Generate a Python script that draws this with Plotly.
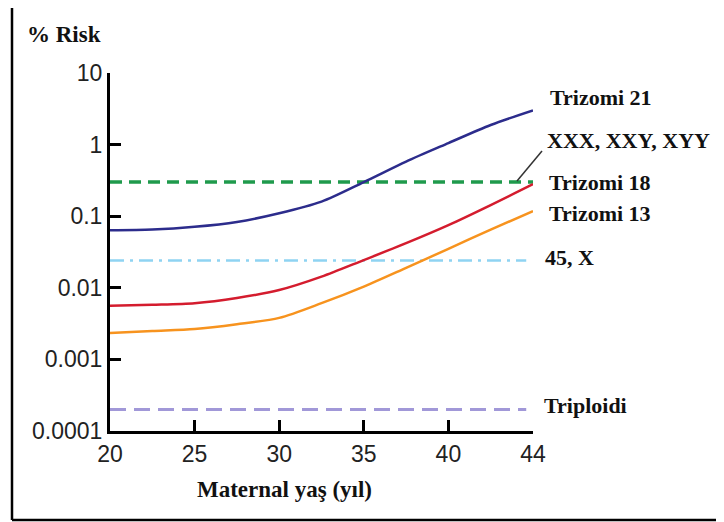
import plotly.graph_objects as go

# ---- data ----
# x positions along the age axis; the final axis position is labelled "44" in the original
x_pos = [20, 22.5, 25, 27.5, 30, 32.5, 35, 37.5, 40, 42.5, 45]
trizomi21 = [0.0635, 0.065, 0.071, 0.083, 0.11, 0.16, 0.30, 0.58, 1.05, 1.88, 3.0]
trizomi18 = [0.0056, 0.0058, 0.0061, 0.0072, 0.0093, 0.0143, 0.0244, 0.042, 0.075, 0.143, 0.28]
trizomi13 = [0.00234, 0.0025, 0.00266, 0.0031, 0.0038, 0.0061, 0.0104, 0.019, 0.035, 0.065, 0.118]
xxx_xxy_xyy = 0.30
x45 = 0.024
triploidi = 0.0002

x_tickvals = [20, 25, 30, 35, 40, 45]
x_ticktext = ["20", "25", "30", "35", "40", "44"]
y_tickvals = [0.0001, 0.001, 0.01, 0.1, 1, 10]
y_ticktext = ["0.0001", "0.001", "0.01", "0.1", "1", "10"]

labels = ["Trizomi 21", "XXX, XXY, XYY", "Trizomi 18", "Trizomi 13", "45, X", "Triploidi"]

# ---- layout geometry (screen pixels; page body adds an 8px offset) ----
OFF = 8
W, H = 724, 522
L, R, T, B = 110, 533, 73, 431


def px(x):
    return (x - L) / (R - L)


def py(y):
    return (B - y) / (B - T)


fig = go.Figure()

# horizontal reference lines
fig.add_trace(go.Scatter(x=[x_pos[0], x_pos[-1]], y=[xxx_xxy_xyy] * 2, mode="lines",
                         line=dict(color="#1f9a4c", width=3.5, dash="12px,7px"), showlegend=False))
fig.add_trace(go.Scatter(x=[x_pos[0], 44.6], y=[x45] * 2, mode="lines",
                         line=dict(color="#8fd3f2", width=2.5, dash="14px,6px,3px,6px"), showlegend=False))
fig.add_trace(go.Scatter(x=[x_pos[0], 44.6], y=[triploidi] * 2, mode="lines",
                         line=dict(color="#a198d8", width=3, dash="16px,8px"), showlegend=False))

# curves
fig.add_trace(go.Scatter(x=x_pos, y=trizomi21, mode="lines",
                         line=dict(color="#2c2c8c", width=2.5, shape="spline", smoothing=0.8), showlegend=False))
fig.add_trace(go.Scatter(x=x_pos, y=trizomi18, mode="lines",
                         line=dict(color="#d41c2e", width=2.5, shape="spline", smoothing=0.8), showlegend=False))
fig.add_trace(go.Scatter(x=x_pos, y=trizomi13, mode="lines",
                         line=dict(color="#f7931e", width=2.5, shape="spline", smoothing=0.8), showlegend=False))

serif = "Liberation Serif, Times New Roman, serif"
sans = "Liberation Sans, Arial, sans-serif"

annotations = []
label_pos = [(548, 98), (545, 140), (547, 182), (547, 213), (543, 258), (542, 405)]
for text, (lx, ly) in zip(labels, label_pos):
    annotations.append(dict(text="<b>" + text + "</b>", xref="paper", yref="paper", x=px(lx), y=py(ly),
                            xanchor="left", yanchor="middle", showarrow=False,
                            font=dict(family=serif, size=22, color="#111")))

annotations.append(dict(text="<b>% Risk</b>", xref="paper", yref="paper", x=px(25), y=py(35),
                        xanchor="left", yanchor="middle", showarrow=False,
                        font=dict(family=serif, size=23, color="#111")))
annotations.append(dict(text="<b>Maternal yaş (yıl)</b>", xref="paper", yref="paper", x=px(284), y=py(490),
                        xanchor="center", yanchor="middle", showarrow=False,
                        font=dict(family=serif, size=23, color="#111")))

shapes = [
    # leader line from XXX label to green line end
    dict(type="line", xref="paper", yref="paper", x0=px(517), y0=py(181), x1=px(542), y1=py(151),
         line=dict(color="#333", width=1.5)),
    # outer frame
    dict(type="line", xref="paper", yref="paper", x0=px(12), y0=py(5), x1=px(740), y1=py(5),
         line=dict(color="black", width=2.5)),
    dict(type="line", xref="paper", yref="paper", x0=px(12), y0=py(5), x1=px(12), y1=py(520),
         line=dict(color="black", width=2.5)),
    dict(type="line", xref="paper", yref="paper", x0=px(12), y0=py(520), x1=px(740), y1=py(520),
         line=dict(color="black", width=2.5)),
]

fig.update_layout(
    width=W, height=H,
    margin=dict(l=L - OFF, r=W - R + OFF, t=T - OFF, b=H - B + OFF),
    paper_bgcolor="white", plot_bgcolor="white",
    annotations=annotations, shapes=shapes,
    xaxis=dict(range=[20, 45], tickmode="array", tickvals=x_tickvals, ticktext=x_ticktext,
               ticks="inside", ticklen=11, tickwidth=2.5, tickcolor="black",
               showline=True, linewidth=3, linecolor="black", showgrid=False, zeroline=False,
               tickfont=dict(family=sans, size=23, color="#222")),
    yaxis=dict(type="log", range=[-4, 1], tickmode="array", tickvals=y_tickvals, ticktext=y_ticktext,
               ticks="inside", ticklen=11, tickwidth=2.5, tickcolor="black",
               showline=True, linewidth=3, linecolor="black", showgrid=False, zeroline=False,
               tickfont=dict(family=sans, size=23, color="#222")),
)

fig.write_html("out.html")
